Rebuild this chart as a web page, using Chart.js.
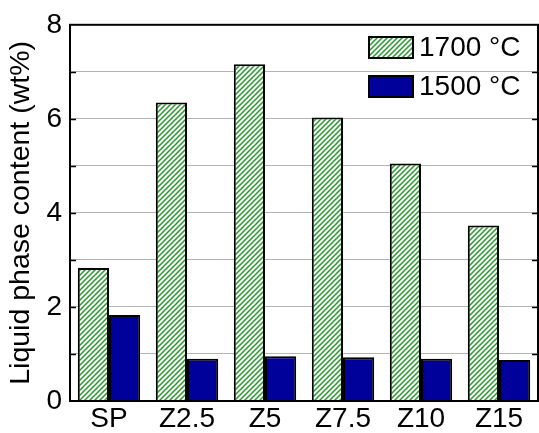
<!DOCTYPE html>
<html>
<head>
<meta charset="utf-8">
<script src="https://cdn.jsdelivr.net/npm/chart.js@4.4.1/dist/chart.umd.min.js"></script>
<style>
  html, body { margin: 0; padding: 0; background: #fff; }
  #wrap { width: 539px; height: 433px; }
</style>
</head>
<body>
<div id="wrap"><canvas id="chart" width="539" height="433"></canvas></div>
<script>
const categories = ["SP", "Z2.5", "Z5", "Z7.5", "Z10", "Z15"];
const liquid1700 = [2.83, 6.35, 7.16, 6.03, 5.05, 3.73];
const liquid1500 = [1.83, 0.90, 0.95, 0.93, 0.90, 0.87];
const seriesLabels = ["1700 \u00B0C", "1500 \u00B0C"];

Chart.defaults.font.family = "'Liberation Sans', Arial, sans-serif";
Chart.defaults.color = "#000";

// green diagonal hatch on white
function hatch() {
  const n = 5;
  const c = document.createElement("canvas");
  c.width = n;
  c.height = n;
  const g = c.getContext("2d");
  g.fillStyle = "#fff";
  g.fillRect(0, 0, n, n);
  g.strokeStyle = "#26992b";
  g.lineWidth = 1.5;
  g.beginPath();
  for (let k = -1; k <= 1; k++) {
    g.moveTo(-1 + k * n, n + 1); g.lineTo(n + 1 + k * n, -1);
  }
  g.stroke();
  return g.createPattern(c, "repeat");
}

const ctx = document.getElementById("chart").getContext("2d");
const hatchFill = hatch();

// frame with inward ticks on both sides, plus the legend
const framePlugin = {
  id: "frame",
  afterDatasetsDraw(chart) {
    const { ctx, chartArea: a, scales } = chart;
    const y = scales.y;
    ctx.save();
    ctx.strokeStyle = "#000";
    ctx.lineWidth = 2;
    ctx.strokeRect(a.left, a.top, a.right - a.left, a.bottom - a.top);
    ctx.lineWidth = 1.5;
    ctx.beginPath();
    for (let v = 1; v < 8; v++) {
      const py = Math.round(y.getPixelForValue(v)) + 0.5;
      ctx.moveTo(a.left, py); ctx.lineTo(a.left + 6, py);
      ctx.moveTo(a.right, py); ctx.lineTo(a.right - 6, py);
    }
    ctx.stroke();

    const sets = chart.data.datasets;
    ctx.font = "28px 'Liberation Sans', Arial, sans-serif";
    ctx.textBaseline = "middle";
    sets.forEach((ds, i) => {
      const bx = 369, by = 37 + i * 39;
      ctx.fillStyle = ds.backgroundColor;
      ctx.fillRect(bx, by, 44, 21);
      ctx.lineWidth = 2;
      ctx.strokeRect(bx, by, 44, 21);
      ctx.fillStyle = "#000";
      ctx.fillText(ds.label, bx + 50, by + 11);
    });
    ctx.restore();
  }
};

new Chart(ctx, {
  type: "bar",
  data: {
    labels: categories,
    datasets: [
      {
        label: seriesLabels[0],
        data: liquid1700,
        backgroundColor: hatchFill,
        borderColor: "#000",
        borderWidth: 2,
        categoryPercentage: 0.8,
        barPercentage: 1.0,
      },
      {
        label: seriesLabels[1],
        data: liquid1500,
        backgroundColor: "#00009a",
        borderColor: "#000",
        borderWidth: 2,
        categoryPercentage: 0.8,
        barPercentage: 1.0,
      },
    ],
  },
  options: {
    responsive: false,
    animation: false,
    layout: { padding: { top: 21, right: 1, left: 0, bottom: 0 } },
    scales: {
      x: {
        grid: { display: false, drawTicks: false },
        border: { display: false },
        ticks: { font: { size: 28 }, padding: 1, maxRotation: 0 },
        afterFit(s) { s.height = 32; },
      },
      y: {
        min: 0,
        max: 8,
        grid: { color: "#b4b4b4", lineWidth: 1, drawTicks: false },
        border: { display: false },
        ticks: {
          stepSize: 1,
          padding: 8,
          font: { size: 28 },
          callback: (v) => (v % 2 === 0 ? v : ""),
        },
        title: {
          display: true,
          text: "Liquid phase content (wt%)",
          font: { size: 28.5 },
          padding: { top: 4, bottom: 0 },
        },
        afterFit(s) { s.width = 70; },
      },
    },
    plugins: {
      legend: { display: false },
      tooltip: { enabled: false },
    },
  },
  plugins: [framePlugin],
});
</script>
</body>
</html>
